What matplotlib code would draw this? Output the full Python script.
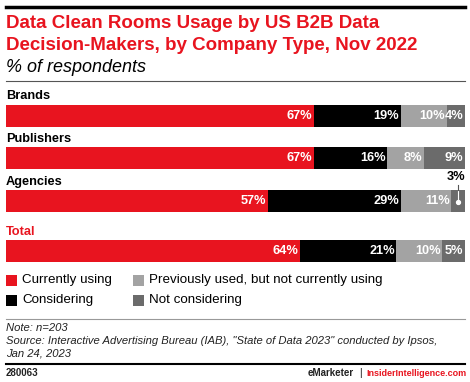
import matplotlib.pyplot as plt
import numpy as np

W, H = 470, 382

groups = ["Brands", "Publishers", "Agencies", "Total"]
series = ["Currently using", "Considering", "Previously used, but not currently using", "Not considering"]
currently_using = [67, 67, 57, 64]
considering = [19, 16, 29, 21]
previously_used = [10, 8, 11, 10]
not_considering = [4, 9, 3, 5]

colors = ["#e8141f", "#000000", "#a3a3a3", "#6b6b6b"]
red = "#e8141f"


def fx(px):
    return px / W


def fy(py):
    return 1 - py / H


fig = plt.figure(figsize=(W / 100, H / 100), dpi=100)
plt.rcParams['font.family'] = ['Liberation Sans', 'DejaVu Sans']

# bars axes: x 0..100 mapped to pixels 6..465, y in pixels
ax = fig.add_axes([fx(6), 0, fx(465) - fx(6), 1])
ax.set_xlim(0, 100)
ax.set_ylim(H, 0)
ax.axis("off")

bar_y = [115.5, 157.5, 200.5, 251]
label_y = [96, 139, 182, 232]
bar_h = 22

values = np.array([currently_using, considering, previously_used, not_considering])
left = np.zeros(len(groups))
for i, s in enumerate(series):
    ax.barh(bar_y, values[i], left=left, height=bar_h, color=colors[i], linewidth=0)
    for j in range(len(groups)):
        v = values[i][j]
        right = left[j] + v
        if groups[j] == "Agencies" and v == 3:
            xc = left[j] + v / 2
            ax.plot([xc, xc], [bar_y[j] - 11, bar_y[j] + 1], color="white", lw=0.8)
            ax.plot([xc], [bar_y[j] + 1], "o", color="white", ms=2.8)
            ax.plot([xc, xc], [bar_y[j] - 11, bar_y[j] - 16], color="#555555", lw=0.8)
            ax.text(right, bar_y[j] - 17, f"{v}%", ha="right", va="bottom",
                    fontsize=9.2, fontweight="bold", color="black")
        else:
            ax.text(right - 0.3, bar_y[j] + 0.5, f"{v}%", ha="right", va="center",
                    fontsize=9.2, fontweight="bold", color="white")
    left = left + values[i]

for j, g in enumerate(groups):
    ax.text(0, label_y[j], g, ha="left", va="center", fontsize=9.2, fontweight="bold",
            color=red if g == "Total" else "black")

# header
fig.add_artist(plt.Line2D([fx(6), fx(465)], [fy(7), fy(7)], color="black", lw=2.5))
fig.text(fx(6), fy(24), "Data Clean Rooms Usage by US B2B Data", fontsize=13.5,
         fontweight="bold", color=red, va="center", ha="left")
fig.text(fx(6), fy(46), "Decision-Makers, by Company Type, Nov 2022", fontsize=13.5,
         fontweight="bold", color=red, va="center", ha="left")
fig.text(fx(6), fy(68), "% of respondents", fontsize=13, style="italic",
         color="black", va="center", ha="left")
fig.add_artist(plt.Line2D([fx(6), fx(465)], [fy(80.5), fy(80.5)], color="#555555", lw=0.8))

# legend
leg_pos = [(6, 280), (6, 300), (133, 280), (133, 300)]
for i, s in enumerate(series):
    x0, y0 = leg_pos[i]
    fig.add_artist(plt.Rectangle((fx(x0), fy(y0 + 5.5)), 11 / W, 11 / H,
                                 color=colors[i], linewidth=0))
    fig.text(fx(x0 + 16), fy(y0), s, fontsize=9.6, va="center", ha="left")

# notes
fig.add_artist(plt.Line2D([fx(6), fx(465)], [fy(319), fy(319)], color="#999999", lw=0.8))
fig.text(fx(6), fy(328), "Note: n=203", fontsize=8.1, style="italic", va="center", color="#222222")
fig.text(fx(6), fy(341), 'Source: Interactive Advertising Bureau (IAB), "State of Data 2023" conducted by Ipsos,',
         fontsize=8.1, style="italic", va="center", color="#222222")
fig.text(fx(6), fy(354), "Jan 24, 2023", fontsize=8.1, style="italic", va="center", color="#222222")

fig.add_artist(plt.Line2D([fx(6), fx(465)], [fy(364), fy(364)], color="black", lw=1.5))
fig.text(fx(6), fy(373), "280063", fontsize=7, fontweight="bold", va="center", color="#222222")
fig.text(fx(366), fy(373), "InsiderIntelligence.com", fontsize=6.5, fontweight="bold",
         va="center", ha="left", color=red)
fig.text(fx(360), fy(373), "|", fontsize=7.5, va="center", ha="center", color="#222222")
fig.text(fx(354), fy(373), "eMarketer", fontsize=7, fontweight="bold",
         va="center", ha="right", color="#222222")

fig.savefig("out.png", dpi=100)
